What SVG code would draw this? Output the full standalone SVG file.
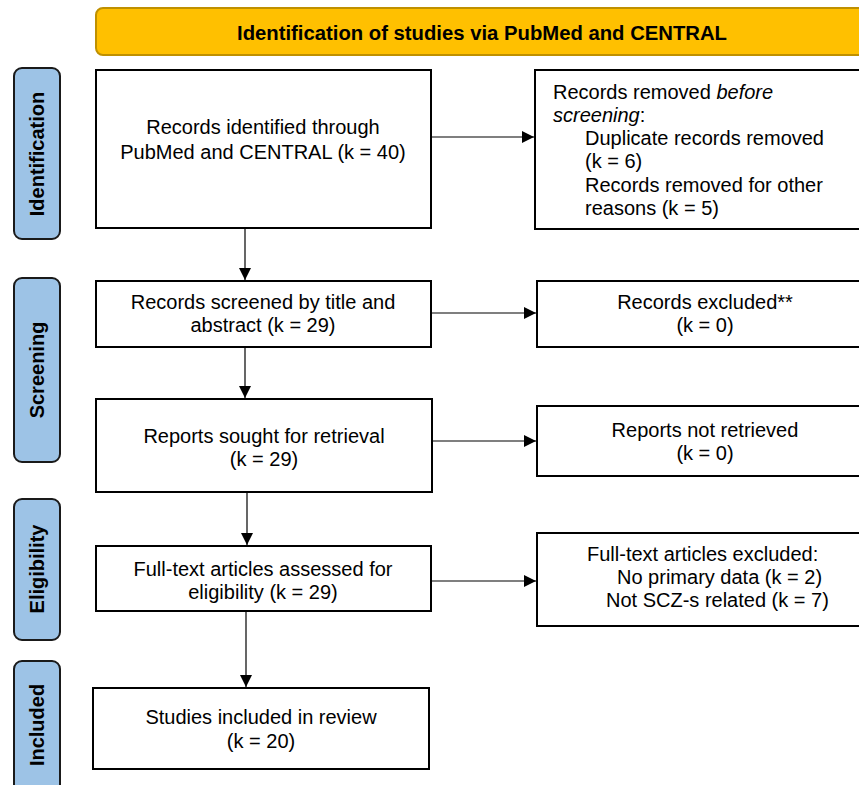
<svg xmlns="http://www.w3.org/2000/svg" width="859" height="785" viewBox="0 0 859 785">
<style>
.box{fill:#fff;stroke:#000;stroke-width:2}
.side{fill:#9DC3E6;stroke:#1a1a1a;stroke-width:2}
.t{font-family:"Liberation Sans",Arial,sans-serif;font-size:20px;fill:#000}
.c{text-anchor:middle}
.lbl{font-family:"Liberation Sans",Arial,sans-serif;font-size:20px;font-weight:bold;fill:#000;text-anchor:middle}
.con{stroke:#000;stroke-width:1.2;fill:none;marker-end:url(#ah)}
</style>
<defs>
<marker id="ah" viewBox="0 0 12 12" refX="12" refY="6" markerWidth="12" markerHeight="12" markerUnits="userSpaceOnUse" orient="auto">
<path d="M0,0 L12,6 L0,12 Z" fill="#000"/>
</marker>
</defs>
<rect width="859" height="785" fill="#fff"/>

<g id="header">
<rect x="96" y="8" width="790" height="47" rx="7" fill="#FFC000" stroke="#BF9000" stroke-width="2"/>
<text x="482" y="40" class="t c" font-weight="bold" font-size="19" textLength="490" lengthAdjust="spacingAndGlyphs">Identification of studies via PubMed and CENTRAL</text>
</g>

<g id="lbl-identification">
<rect class="side" x="14" y="68" width="46" height="171" rx="8"/>
<text class="lbl" transform="translate(44,154) rotate(-90)">Identification</text>
</g>
<g id="lbl-screening">
<rect class="side" x="14" y="278" width="46" height="184" rx="8"/>
<text class="lbl" transform="translate(44,370) rotate(-90)">Screening</text>
</g>
<g id="lbl-eligibility">
<rect class="side" x="14" y="499" width="46" height="141" rx="8"/>
<text class="lbl" transform="translate(44,569) rotate(-90)">Eligibility</text>
</g>
<g id="lbl-included">
<rect class="side" x="14" y="661" width="46" height="140" rx="8"/>
<text class="lbl" transform="translate(44,725) rotate(-90)">Included</text>
</g>

<g id="n-identified">
<rect class="box" x="96" y="70" width="335" height="158"/>
<text class="t c" x="263" y="134">Records identified through</text>
<text class="t c" x="263" y="159">PubMed and CENTRAL (k = 40)</text>
</g>
<g id="n-removed">
<rect class="box" x="535" y="70" width="340" height="159"/>
<text class="t" x="553" y="99">Records removed <tspan font-style="italic">before</tspan></text>
<text class="t" x="553" y="122"><tspan font-style="italic">screening</tspan>:</text>
<text class="t" x="585" y="145">Duplicate records removed</text>
<text class="t" x="585" y="168">(k = 6)</text>
<text class="t" x="585" y="192">Records removed for other</text>
<text class="t" x="585" y="215">reasons (k = 5)</text>
</g>
<g id="n-screened">
<rect class="box" x="96" y="281" width="335" height="66"/>
<text class="t c" x="263" y="309">Records screened by title and</text>
<text class="t c" x="263" y="332">abstract (k = 29)</text>
</g>
<g id="n-excluded">
<rect class="box" x="537" y="281" width="340" height="66"/>
<text class="t c" x="705" y="309">Records excluded**</text>
<text class="t c" x="705" y="332">(k = 0)</text>
</g>
<g id="n-sought">
<rect class="box" x="96" y="399" width="336" height="93"/>
<text class="t c" x="264" y="443">Reports sought for retrieval</text>
<text class="t c" x="264" y="466">(k = 29)</text>
</g>
<g id="n-notretrieved">
<rect class="box" x="537" y="406" width="340" height="70"/>
<text class="t c" x="705" y="437">Reports not retrieved</text>
<text class="t c" x="705" y="460">(k = 0)</text>
</g>
<g id="n-assessed">
<rect class="box" x="96" y="546" width="335" height="65"/>
<text class="t c" x="263" y="576">Full-text articles assessed for</text>
<text class="t c" x="263" y="599">eligibility (k = 29)</text>
</g>
<g id="n-ftexcluded">
<rect class="box" x="537" y="533" width="340" height="93"/>
<text class="t" x="587" y="561">Full-text articles excluded:</text>
<text class="t" x="617" y="584">No primary data (k = 2)</text>
<text class="t" x="606" y="607">Not SCZ-s related (k = 7)</text>
</g>
<g id="n-included">
<rect class="box" x="93" y="688" width="336" height="81"/>
<text class="t c" x="261" y="724">Studies included in review</text>
<text class="t c" x="261" y="748">(k = 20)</text>
</g>

<g id="connectors">
<line class="con" x1="245" y1="229" x2="245" y2="280"/>
<line class="con" x1="245" y1="348" x2="245" y2="398"/>
<line class="con" x1="247" y1="493" x2="247" y2="545"/>
<line class="con" x1="246" y1="612" x2="246" y2="687"/>
<line class="con" x1="432" y1="137" x2="534" y2="137"/>
<line class="con" x1="432" y1="313" x2="536" y2="313"/>
<line class="con" x1="433" y1="441" x2="536" y2="441"/>
<line class="con" x1="432" y1="581" x2="536" y2="581"/>
</g>
</svg>
